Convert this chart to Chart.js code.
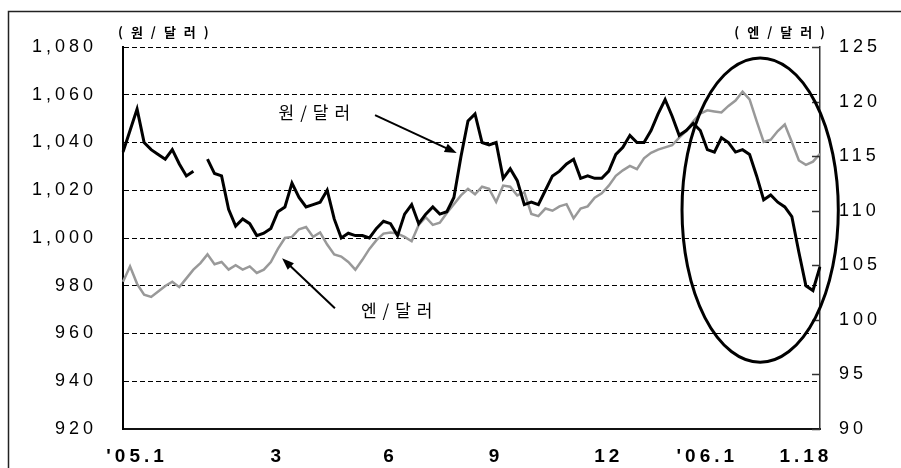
<!DOCTYPE html>
<html>
<head>
<meta charset="utf-8">
<script src="https://cdn.jsdelivr.net/npm/chart.js@4/dist/chart.umd.min.js"></script>
<style>
    body { margin: 0; background: #fff; }
    canvas { display: block; }
</style>
</head>
<body>
<canvas id="fxChart" width="901" height="468"></canvas>
<script>
// Won/dollar vs yen/dollar, Jan 2005 - Jan 18 2006

const tickPositions = [2, 22, 38, 53, 69, 83, 97];
const tickLabels = ["'05.1", '3', '6', '9', '12', "'06.1", '1.18'];

// 원/달러 (left axis), null = gap in the line
const wonDollar = [
    1036, 1045, 1054, 1040, 1037, 1035, 1033, 1037, 1031, 1026,
    1028, null, 1033, 1027, 1026, 1012, 1005, 1008, 1006, 1001,
    1002, 1004, 1011, 1013, 1023, 1017, 1013, 1014, 1015, 1020,
    1008, 1000, 1002, 1001, 1001, 1000, 1004, 1007, 1006, 1001,
    1010, 1014, 1006, 1010, 1013, 1010, 1011, 1017, 1034, 1049,
    1052, 1040, 1039, 1040, 1025, 1029, 1024, 1014, 1015, 1014,
    1020, 1026, 1028, 1031, 1033, 1025, 1026, 1025, 1025, 1028,
    1035, 1038, 1043, 1040, 1040, 1045, 1052, 1058, 1051, 1043,
    1045, 1048, 1045, 1037, 1036, 1042, 1040, 1036, 1037, 1035,
    1026, 1016, 1018, 1015, 1013, 1009, 994, 980, 978, 988
];

// 엔/달러 (right axis)
const yenDollar = [
    103.5, 104.9, 103.3, 102.3, 102.1, 102.6, 103.1, 103.5, 103, 103.8,
    104.6, 105.2, 106, 105.1, 105.3, 104.6, 105, 104.6, 104.9, 104.3,
    104.6, 105.3, 106.5, 107.5, 107.6, 108.3, 108.5, 107.6, 108, 106.9,
    106, 105.8, 105.3, 104.6, 105.5, 106.5, 107.3, 107.9, 108, 107.9,
    107.6, 107.2, 108.7, 109.4, 108.7, 108.9, 109.8, 110.6, 111.4, 112,
    111.5, 112.2, 112, 110.8, 112.3, 112.2, 111.4, 111.7, 109.7, 109.5,
    110.2, 110, 110.4, 110.6, 109.3, 110.2, 110.4, 111.2, 111.6, 112.3,
    113.2, 113.7, 114.1, 113.8, 114.8, 115.3, 115.6, 115.8, 116, 116.7,
    117.3, 118.2, 118.9, 119.2, 119.1, 119, 119.6, 120.1, 120.9, 120.2,
    118.2, 116.3, 116.5, 117.3, 117.9, 116.3, 114.6, 114.2, 114.5, 115.2
];

// Category labels, blank except at the month marks
const xLabels = wonDollar.map((v, i) => {
    const k = tickPositions.indexOf(i);
    return k >= 0 ? tickLabels[k] : '';
});

// Annotations, in data units (x = point index, y = won/dollar)
const notes = [
    { text: '원/달러', x: 27.6, y: 1052.7 },
    { text: '엔/달러', x: 39.3, y: 969.7 }
];
const arrows = [
    { from: [35.8, 1051.5], to: [47.4, 1035.6] },
    { from: [30.1, 970.6], to: [22.6, 991.5] }
];
const circle = { x: 90.5, y: 1011.7, rx: 11.1, ry: 63.7 };

const spacingPlugin = {
    id: 'spacing',
    beforeDraw(chart) {
        const ctx = chart.ctx;
        ctx.fillStyle = '#fff';
        ctx.fillRect(0, 0, chart.width, chart.height);
        ctx.letterSpacing = '4px';
    }
};

const decorPlugin = {
    id: 'decor',
    afterDraw(chart) {
        const ctx = chart.ctx;
        const xs = chart.scales.x, ys = chart.scales.y, y1 = chart.scales.y1;
        const area = chart.chartArea;
        const px = v => xs.getPixelForValue(v);
        const py = v => ys.getPixelForValue(v);

        ctx.save();

        // outer frame
        ctx.strokeStyle = '#222';
        ctx.lineWidth = 1.5;
        ctx.strokeRect(8.5, 11.5, 900, 470);

        // small inward ticks on the right axis
        ctx.strokeStyle = '#333';
        ctx.lineWidth = 1.5;
        y1.ticks.forEach(t => {
            const y = Math.round(y1.getPixelForValue(t.value)) + 0.5;
            ctx.beginPath();
            ctx.moveTo(area.right - 8, y);
            ctx.lineTo(area.right, y);
            ctx.stroke();
        });

        // unit titles
        ctx.fillStyle = '#000';
        ctx.font = 'bold 13px "Noto Sans CJK KR"';
        ctx.letterSpacing = '8px';
        ctx.textBaseline = 'middle';
        ctx.textAlign = 'left';
        ctx.fillText('(원/달러)', 118, 32);
        ctx.textAlign = 'right';
        ctx.fillText('(엔/달러)', 833, 32);

        // series notes
        ctx.font = '17px "Noto Sans CJK KR"';
        ctx.letterSpacing = '6px';
        ctx.textAlign = 'center';
        notes.forEach(n => ctx.fillText(n.text, px(n.x), py(n.y)));
        ctx.letterSpacing = '0px';

        // arrows
        ctx.strokeStyle = '#000';
        ctx.lineWidth = 2;
        arrows.forEach(a => {
            const x0 = px(a.from[0]), y0 = py(a.from[1]);
            const x1 = px(a.to[0]), y1p = py(a.to[1]);
            const ang = Math.atan2(y1p - y0, x1 - x0);
            ctx.beginPath();
            ctx.moveTo(x0, y0);
            ctx.lineTo(x1 - 8 * Math.cos(ang), y1p - 8 * Math.sin(ang));
            ctx.stroke();
            ctx.beginPath();
            ctx.moveTo(x1, y1p);
            ctx.lineTo(x1 - 12 * Math.cos(ang) + 4.5 * Math.sin(ang), y1p - 12 * Math.sin(ang) - 4.5 * Math.cos(ang));
            ctx.lineTo(x1 - 12 * Math.cos(ang) - 4.5 * Math.sin(ang), y1p - 12 * Math.sin(ang) + 4.5 * Math.cos(ang));
            ctx.closePath();
            ctx.fill();
        });

        // highlight ellipse
        const cx = px(circle.x), cy = py(circle.y);
        const rx = px(circle.x + circle.rx) - cx;
        const ry = cy - py(circle.y + circle.ry);
        ctx.lineWidth = 3;
        ctx.beginPath();
        ctx.ellipse(cx, cy, rx, ry, 0, 0, Math.PI * 2);
        ctx.stroke();

        ctx.restore();
    }
};

const tickFont = { family: '"Liberation Sans", Arial, sans-serif', size: 18 };

new Chart(document.getElementById('fxChart').getContext('2d'), {
    type: 'line',
    data: {
        labels: xLabels,
        datasets: [{
            label: '원/달러',
            data: wonDollar,
            yAxisID: 'y',
            borderColor: '#000',
            borderWidth: 3,
            pointRadius: 0,
            tension: 0,
            spanGaps: false
        }, {
            label: '엔/달러',
            data: yenDollar,
            yAxisID: 'y1',
            borderColor: '#999',
            borderWidth: 2.5,
            pointRadius: 0,
            tension: 0
        }]
    },
    options: {
        responsive: false,
        animation: false,
        devicePixelRatio: 1,
        layout: {
            padding: { top: 47, left: 0, right: 0, bottom: 0 }
        },
        plugins: {
            legend: { display: false },
            tooltip: { enabled: false }
        },
        scales: {
            x: {
                offset: false,
                grid: { display: false },
                border: { display: true, color: '#111', width: 2 },
                ticks: {
                    autoSkip: false,
                    maxRotation: 0,
                    padding: 8,
                    color: '#000',
                    font: { family: '"Liberation Sans", Arial, sans-serif', size: 19, weight: 'bold' },
                    callback: (v, i) => xLabels[i]
                },
                afterFit: scale => { scale.height = 39; }
            },
            y: {
                position: 'left',
                min: 920,
                max: 1080,
                ticks: {
                    stepSize: 20,
                    padding: 26,
                    color: '#000',
                    font: tickFont,
                    callback: v => v.toLocaleString('en-US')
                },
                grid: { color: '#000', lineWidth: 1, drawTicks: false },
                border: { display: true, color: '#000', width: 2, dash: [5, 3] },
                afterFit: scale => { scale.width = 123; }
            },
            y1: {
                position: 'right',
                min: 90,
                max: 125,
                ticks: {
                    stepSize: 5,
                    padding: 19,
                    color: '#000',
                    font: tickFont
                },
                grid: { drawOnChartArea: false, drawTicks: false },
                border: { display: true, color: '#333', width: 1.5 },
                afterFit: scale => { scale.width = 81; }
            }
        }
    },
    plugins: [spacingPlugin, decorPlugin]
});
</script>
</body>
</html>
